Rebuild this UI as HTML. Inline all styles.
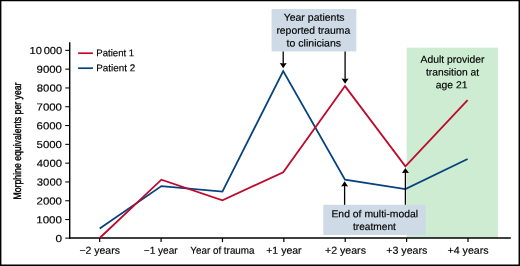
<!DOCTYPE html>
<html><head><meta charset="utf-8"><title>Figure</title>
<style>
html,body{margin:0;padding:0;background:#fff;}
body{width:520px;height:266px;overflow:hidden;}
svg{display:block;}
text{font-family:"Liberation Sans",sans-serif;font-size:10.15px;fill:#000;stroke:#000;stroke-width:0.16px;}
</style></head><body>
<svg width="520" height="266" viewBox="0 0 520 266">
<rect x="0" y="0" width="520" height="266" fill="#fff"/>
<path d="M0,0H520V266H0Z M1.4,1.35V264.5H518.55V1.35Z" fill="#000" fill-rule="evenodd"/>
<rect x="406.7" y="47.7" width="91.2" height="190.3" fill="#cdecd2"/>
<rect x="271.6" y="9.1" width="84.7" height="42.3" fill="#cedae6"/>
<rect x="323.3" y="204.8" width="102.4" height="30.2" fill="#cedae6"/>

<path d="M69.7,42.3V238.75" stroke="#000" stroke-width="1.4" fill="none"/>
<path d="M69,238.05H510.8" stroke="#000" stroke-width="1.5" fill="none"/>
<path d="M65.3,238.10H69.7" stroke="#000" stroke-width="1.05"/>
<path d="M65.3,219.55H69.7" stroke="#000" stroke-width="1.05"/>
<path d="M65.3,200.75H69.7" stroke="#000" stroke-width="1.05"/>
<path d="M65.3,181.95H69.7" stroke="#000" stroke-width="1.05"/>
<path d="M65.3,163.15H69.7" stroke="#000" stroke-width="1.05"/>
<path d="M65.3,144.35H69.7" stroke="#000" stroke-width="1.05"/>
<path d="M65.3,125.55H69.7" stroke="#000" stroke-width="1.05"/>
<path d="M65.3,106.75H69.7" stroke="#000" stroke-width="1.05"/>
<path d="M65.3,87.95H69.7" stroke="#000" stroke-width="1.05"/>
<path d="M65.3,69.15H69.7" stroke="#000" stroke-width="1.05"/>
<path d="M65.3,50.35H69.7" stroke="#000" stroke-width="1.05"/>
<path d="M99.70,238.0V242.1" stroke="#000" stroke-width="1.2"/>
<path d="M161.08,238.0V242.1" stroke="#000" stroke-width="1.2"/>
<path d="M222.46,238.0V242.1" stroke="#000" stroke-width="1.2"/>
<path d="M283.84,238.0V242.1" stroke="#000" stroke-width="1.2"/>
<path d="M345.22,238.0V242.1" stroke="#000" stroke-width="1.2"/>
<path d="M406.60,238.0V242.1" stroke="#000" stroke-width="1.2"/>
<path d="M467.98,238.0V242.1" stroke="#000" stroke-width="1.2"/>
<polyline points="99.70,228.60 161.40,186.11 222.40,191.56 283.20,71.15 345.00,179.72 405.40,189.12 467.60,159.04" fill="none" stroke="#07427f" stroke-width="1.8" stroke-linejoin="miter"/>
<polyline points="99.70,238.00 161.40,179.72 222.40,200.40 283.20,172.20 345.00,86.10 405.40,166.28 467.60,100.20" fill="none" stroke="#be0a2d" stroke-width="1.8" stroke-linejoin="miter"/>
<path d="M78.1,53.2H92.9" stroke="#be0a2d" stroke-width="1.7"/>
<path d="M78.1,68.2H92.9" stroke="#07427f" stroke-width="1.7"/>
<path d="M283.2,51.4V64.10" stroke="#000" stroke-width="1.3" fill="none"/><path d="M283.2,68.30L279.70,63.10L283.2,63.45L286.70,63.10Z" fill="#000"/>
<path d="M345.1,51.4V79.60" stroke="#000" stroke-width="1.3" fill="none"/><path d="M345.1,83.80L341.60,78.60L345.1,78.95L348.60,78.60Z" fill="#000"/>
<path d="M344.6,204.8V185.40" stroke="#000" stroke-width="1.3" fill="none"/><path d="M344.6,181.20L341.10,186.40L344.6,186.05L348.10,186.40Z" fill="#000"/>
<path d="M405.4,204.8V172.10" stroke="#000" stroke-width="1.3" fill="none"/><path d="M405.4,167.90L401.90,173.10L405.4,172.75L408.90,173.10Z" fill="#000"/>
<text transform="translate(79.48,253.70) rotate(0.03) scale(1.0327,1)">−2 years</text>
<text transform="translate(143.75,253.70) rotate(0.03) scale(0.9925,1)">−1 year</text>
<text transform="translate(190.26,253.70) rotate(0.03) scale(0.9712,1)">Year of trauma</text>
<text transform="translate(266.23,253.70) rotate(0.03) scale(1.0373,1)">+1 year</text>
<text transform="translate(324.98,253.70) rotate(0.03) scale(1.0458,1)">+2 years</text>
<text transform="translate(386.22,253.70) rotate(0.03) scale(1.0523,1)">+3 years</text>
<text transform="translate(447.47,253.70) rotate(0.03) scale(1.0523,1)">+4 years</text>
<text transform="translate(55.61,242.00) rotate(0.03) scale(1.1600,1)">0</text>
<text transform="translate(36.25,223.20) rotate(0.03) scale(1.1395,1)">1000</text>
<text transform="translate(36.54,204.40) rotate(0.03) scale(1.1264,1)">2000</text>
<text transform="translate(36.82,185.60) rotate(0.03) scale(1.1136,1)">3000</text>
<text transform="translate(36.82,166.80) rotate(0.03) scale(1.1136,1)">4000</text>
<text transform="translate(36.54,148.00) rotate(0.03) scale(1.1264,1)">5000</text>
<text transform="translate(36.54,129.20) rotate(0.03) scale(1.1264,1)">6000</text>
<text transform="translate(36.54,110.40) rotate(0.03) scale(1.1264,1)">7000</text>
<text transform="translate(36.82,91.60) rotate(0.03) scale(1.1136,1)">8000</text>
<text transform="translate(36.54,72.80) rotate(0.03) scale(1.1264,1)">9000</text>
<text transform="translate(29.48,54.00) rotate(0.03) scale(1.0957,1)">10 000</text>
<text transform="translate(96.27,56.35) rotate(0.03) scale(0.9695,1)" style="font-size:9.9px">Patient 1</text>
<text transform="translate(96.25,71.20) rotate(0.03) scale(1.0013,1)" style="font-size:9.9px">Patient 2</text>
<text transform="translate(283.64,20.70) rotate(0.03) scale(1.0352,1)">Year patients</text>
<text transform="translate(276.39,33.65) rotate(0.03) scale(1.0238,1)">reported trauma</text>
<text transform="translate(286.60,46.50) rotate(0.03) scale(1.0404,1)">to clinicians</text>
<text transform="translate(331.43,217.20) rotate(0.03) scale(1.0265,1)">End of multi-modal</text>
<text transform="translate(353.00,230.00) rotate(0.03) scale(1.0012,1)">treatment</text>
<text transform="translate(420.60,62.70) rotate(0.03) scale(1.0208,1)">Adult provider</text>
<text transform="translate(426.00,75.60) rotate(0.03) scale(1.0124,1)">transition at</text>
<text transform="translate(435.74,88.30) rotate(0.03) scale(1.0248,1)">age 21</text>
<text transform="translate(20.8,141.0) rotate(-90.03) scale(0.806,1)" text-anchor="middle" style="font-size:10.8px;stroke-width:0.42px">Morphine equivalents per year</text>
</svg></body></html>
